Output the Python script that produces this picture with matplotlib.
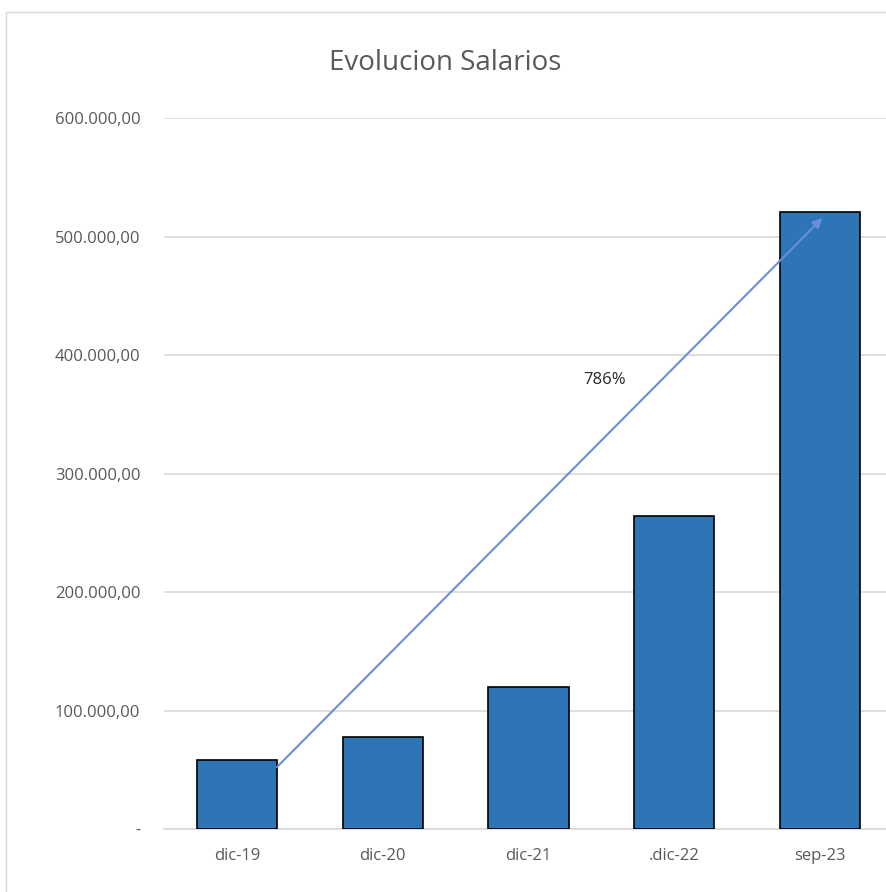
import matplotlib
matplotlib.use("Agg")
import matplotlib.pyplot as plt
from matplotlib.patches import Rectangle

periods = ["dic-19", "dic-20", "dic-21", ".dic-22", "sep-23"]
salaries = [58200, 77600, 119800, 264100, 520700]
y_ticks = [0, 100000, 200000, 300000, 400000, 500000, 600000]
y_tick_labels = ["-", "100.000,00", "200.000,00", "300.000,00",
                 "400.000,00", "500.000,00", "600.000,00"]
growth_label = "786%"

plt.rcParams["font.family"] = ["Open Sans", "DejaVu Sans"]
gray = "#595959"

fig = plt.figure(figsize=(8.86, 8.92), dpi=100)
ax = fig.add_axes([0.185, 0.0706, 0.823, 0.797])

x = range(len(periods))
ax.bar(x, salaries, width=0.55, color="#2E75B6", edgecolor="black",
       linewidth=1.2, zorder=3)

ax.set_ylim(0, 600000)
ax.set_xlim(-0.5, len(periods) - 0.5)
ax.set_yticks(y_ticks)
ax.set_yticklabels(y_tick_labels, color=gray, fontsize=12)
ax.set_xticks(list(x))
ax.set_xticklabels(periods, color=gray, fontsize=12)
ax.tick_params(axis="both", length=0)
ax.tick_params(axis="y", pad=17)
ax.tick_params(axis="x", pad=14)
ax.grid(axis="y", color="#d9d9d9", linewidth=1.2, zorder=0)
for side in ["top", "right", "left"]:
    ax.spines[side].set_visible(False)
ax.spines["bottom"].set_color("#d9d9d9")
ax.spines["bottom"].set_linewidth(1.2)

# growth arrow from first bar to last bar
ax.annotate("", xy=(4.015, 515600), xytext=(0.275, 52300),
            arrowprops=dict(arrowstyle="-|>", color="#6a8fd6", lw=1.5,
                            mutation_scale=14, shrinkA=0, shrinkB=0),
            zorder=4)
ax.text(2.52, 378900, growth_label, ha="center", va="center",
        fontsize=12, color="#262626")

fig.text(0.503, 0.929, "Evolucion Salarios", ha="center", va="center",
         fontsize=20, color=gray)

# outer chart border
fig.patches.append(Rectangle((0.007, -0.01), 1.1, 0.997, transform=fig.transFigure,
                             fill=False, edgecolor="#d9d9d9", linewidth=1))

fig.savefig("out.png", dpi=100)
